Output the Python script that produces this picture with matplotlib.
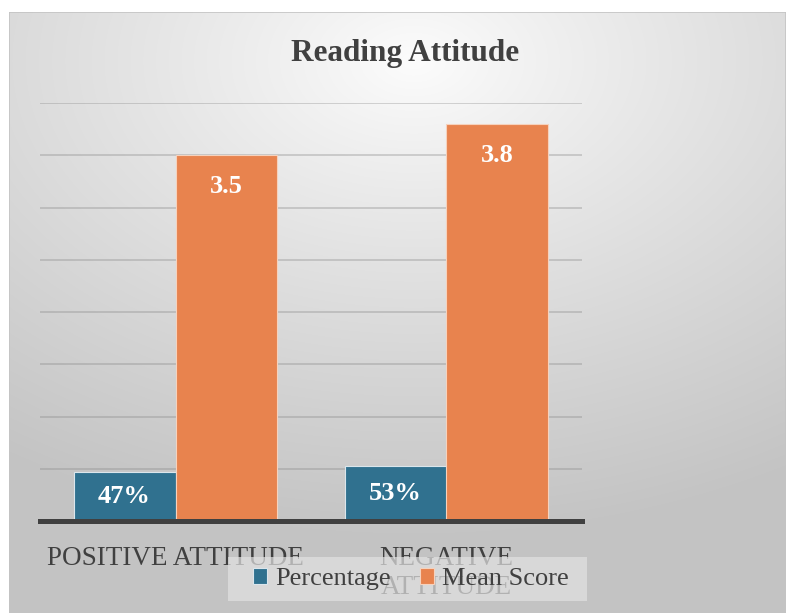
import numpy as np
import matplotlib
matplotlib.use("Agg")
import matplotlib.pyplot as plt

# Data
categories = ["POSITIVE ATTITUDE", "NEGATIVE\nATTITUDE"]
percentage = [0.47, 0.53]
percentage_labels = ["47%", "53%"]
mean_score = [3.5, 3.8]
mean_labels = ["3.5", "3.8"]

blue = "#30718f"
orange = "#e8834e"
text_col = "#404040"
serif = ["Liberation Serif", "DejaVu Serif"]

W, H = 786, 613
fig = plt.figure(figsize=(W / 100, H / 100), dpi=100)
fig.patch.set_facecolor("white")

# Gradient background (radial, bright at upper centre)
bg = fig.add_axes([9 / W, 0, (W - 9) / W, (H - 12) / H])
ny, nx = 300, 390
yy, xx = np.mgrid[0:ny, 0:nx]
cx, cy = 0.52 * nx, 0.08 * ny
d = np.sqrt(((xx - cx) / nx * 0.85) ** 2 + ((yy - cy) / ny) ** 2)
v = 0.99 - 0.225 * np.clip(d / 0.8, 0, 1) ** 0.9
bg.imshow(np.dstack([v, v, v]), aspect="auto", extent=[0, 1, 0, 1],
          interpolation="bilinear")
bg.set_axis_off()
bg.add_patch(plt.Rectangle((0, 0), 1, 1, transform=bg.transAxes,
                           fill=False, edgecolor="#c4c4c4", lw=1.2))

# Main plot area
ax = fig.add_axes([40 / W, (H - 521) / H, 542 / W, 418 / H])
ax.set_facecolor("none")

x = np.arange(len(categories))
bw = 0.376
b1 = ax.bar(x - bw / 2, percentage, bw, color=blue, edgecolor="#dbe6ec",
            linewidth=0.8, label="Percentage", zorder=3)
b2 = ax.bar(x + bw / 2, mean_score, bw, color=orange, edgecolor="#f6d2bd",
            linewidth=0.8, label="Mean Score", zorder=3)

for rect, lab in zip(b1, percentage_labels):
    ax.text(rect.get_x() + rect.get_width() / 2, rect.get_height() / 2, lab,
            ha="center", va="center", color="white", fontsize=19,
            fontweight="bold", family=serif, zorder=4)
for rect, lab in zip(b2, mean_labels):
    ax.annotate(lab, (rect.get_x() + rect.get_width() / 2, rect.get_height()),
                xytext=(0, -22.5), textcoords="offset points",
                ha="center", va="center", color="white", fontsize=19,
                fontweight="bold", family=serif, zorder=4)

ax.set_xlim(-0.5, 1.5)
ax.set_ylim(0, 4)
ax.set_yticks(np.arange(0.5, 4.01, 0.5))
ax.set_yticklabels([])
ax.grid(axis="y", color="#8a8a8a", alpha=0.45, linewidth=1.1, zorder=0)
ax.tick_params(axis="y", length=0)
ax.set_xticks(x)
ax.set_xticklabels(categories, fontsize=19.5, family=serif, color=text_col,
                   linespacing=1.22)
ax.tick_params(axis="x", length=0, pad=18)
for s in ["top", "right", "left"]:
    ax.spines[s].set_visible(False)
ax.spines["bottom"].set_color("#404040")
ax.spines["bottom"].set_linewidth(3.6)
ax.spines["bottom"].set_zorder(5)

fig.text(405 / W, (H - 54) / H, "Reading Attitude", ha="center", va="center",
         fontsize=22.5, fontweight="bold", family=serif, color=text_col)

# Legend band drawn over the tick labels, semi-transparent
fig.patches.append(plt.Rectangle((228 / W, (H - 601) / H), 359 / W, 44 / H,
                                 transform=fig.transFigure, facecolor="#e2e2e2",
                                 alpha=0.7, edgecolor="none", zorder=4))
handles, labels = ax.get_legend_handles_labels()
leg = fig.legend(handles, labels, loc="center",
                 bbox_to_anchor=(411 / W, (H - 579) / H), ncol=2,
                 frameon=False, prop={"family": serif, "size": 19},
                 handlelength=0.55, handleheight=0.55, handletextpad=0.3,
                 columnspacing=1.1)
leg.set_zorder(6)
for t in leg.get_texts():
    t.set_color(text_col)

fig.savefig("out.png", dpi=100)
